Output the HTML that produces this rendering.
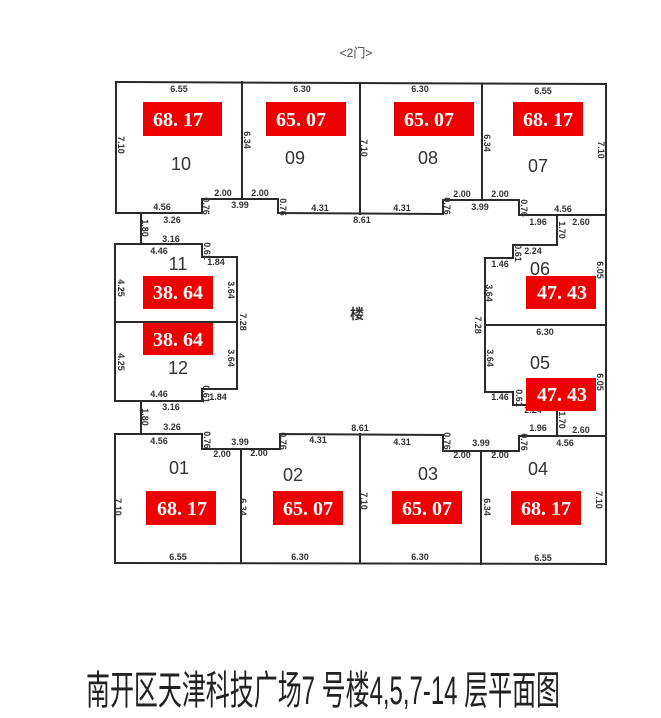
<!DOCTYPE html>
<html><head><meta charset="utf-8"><style>
html,body{margin:0;padding:0;background:#fff;}
svg{display:block;}
.w{fill:none;stroke:#2a2a2a;stroke-width:2;stroke-linecap:square;}
.d{font-family:"Liberation Sans",sans-serif;font-size:9px;font-weight:bold;fill:#333;text-anchor:middle;}
.n{font-family:"Liberation Sans",sans-serif;font-size:18px;fill:#333;text-anchor:middle;}
.r{fill:#ee0000;}
.a{font-family:"Liberation Serif",serif;font-size:20px;font-weight:bold;fill:#fff;}
</style></head><body>
<svg width="661" height="718" viewBox="0 0 661 718" xmlns="http://www.w3.org/2000/svg">
<rect width="661" height="718" fill="#fff"/>
<text x="356" y="57" style="font-family:'Liberation Sans','Noto Sans CJK SC',sans-serif;font-size:12px;fill:#444;text-anchor:middle">&lt;2门&gt;</text>

<!-- walls -->
<polyline class="w" points="116,213 116,82 606,84 606,564 115,563 115,434"/>
<polyline class="w" points="116,213 202,213 202,199 278,199 278,213 443,214 443,200 519,200 519,215 606,215"/>
<line class="w" x1="242" y1="82" x2="242" y2="199"/>
<line class="w" x1="360" y1="83" x2="360" y2="214"/>
<line class="w" x1="482" y1="84" x2="482" y2="200"/>
<!-- left rooms -->
<line class="w" x1="141" y1="213" x2="141" y2="244"/>
<polyline class="w" points="115,244 202,244 202,257 237,257 237,389 202,389 202,401 115,401 115,244"/>
<line class="w" x1="115" y1="322" x2="237" y2="322"/>
<line class="w" x1="141" y1="401" x2="141" y2="434"/>
<!-- right rooms -->
<polyline class="w" points="557,215 557,245 513,245 513,258 485,258 485,392 513,392 513,405 557,405 557,436"/>
<line class="w" x1="485" y1="325" x2="606" y2="325"/>
<!-- bottom -->
<polyline class="w" points="115,434 202,434 202,449 280,449 280,434 443,435 443,451 519,451 519,436 606,436"/>
<line class="w" x1="241" y1="449" x2="241" y2="563"/>
<line class="w" x1="360" y1="434" x2="360" y2="563"/>
<line class="w" x1="481" y1="451" x2="481" y2="564"/>

<!-- horizontal dims -->
<g class="d">
<text x="179" y="92">6.55</text><text x="302" y="92">6.30</text><text x="420" y="92">6.30</text><text x="543" y="94">6.55</text>
<text x="223" y="196">2.00</text><text x="260" y="196">2.00</text><text x="462" y="197">2.00</text><text x="500" y="197">2.00</text>
<text x="240" y="208">3.99</text><text x="480" y="210">3.99</text>
<text x="162" y="210">4.56</text><text x="320" y="211">4.31</text><text x="402" y="211">4.31</text><text x="563" y="212">4.56</text>
<text x="172" y="223">3.26</text><text x="362" y="223">8.61</text><text x="538" y="225">1.96</text><text x="581" y="225">2.60</text>
<text x="171" y="242">3.16</text><text x="159" y="254">4.46</text><text x="216" y="265">1.84</text>
<text x="533" y="254">2.24</text><text x="500" y="267">1.46</text><text x="545" y="335">6.30</text>
<text x="159" y="397">4.46</text><text x="218" y="400">1.84</text><text x="171" y="410">3.16</text>
<text x="500" y="400">1.46</text><text x="533" y="413">2.24</text>
<text x="172" y="430">3.26</text><text x="360" y="431">8.61</text><text x="538" y="431">1.96</text><text x="581" y="433">2.60</text>
<text x="159" y="444">4.56</text><text x="240" y="445">3.99</text><text x="318" y="443">4.31</text><text x="402" y="445">4.31</text><text x="481" y="446">3.99</text><text x="565" y="446">4.56</text>
<text x="222" y="457">2.00</text><text x="259" y="456">2.00</text><text x="462" y="458">2.00</text><text x="500" y="458">2.00</text>
<text x="178" y="560">6.55</text><text x="300" y="560">6.30</text><text x="420" y="560">6.30</text><text x="543" y="561">6.55</text>
</g>
<!-- vertical dims -->
<g class="d">
<text transform="translate(121,145) rotate(90)" y="3">7.10</text>
<text transform="translate(247,140) rotate(90)" y="3">6.34</text>
<text transform="translate(364,148) rotate(90)" y="3">7.10</text>
<text transform="translate(487,143) rotate(90)" y="3">6.34</text>
<text transform="translate(601,150) rotate(90)" y="3">7.10</text>
<text transform="translate(206,206) rotate(90)" y="3">0.76</text>
<text transform="translate(283,207) rotate(90)" y="3">0.76</text>
<text transform="translate(447,206) rotate(90)" y="3">0.76</text>
<text transform="translate(524,208) rotate(90)" y="3">0.76</text>
<text transform="translate(145,228) rotate(90)" y="3">1.80</text>
<text transform="translate(207,251) rotate(90)" y="3">0.61</text>
<text transform="translate(121,288) rotate(90)" y="3">4.25</text>
<text transform="translate(231,290) rotate(90)" y="3">3.64</text>
<text transform="translate(243,322) rotate(90)" y="3">7.28</text>
<text transform="translate(121,362) rotate(90)" y="3">4.25</text>
<text transform="translate(231,358) rotate(90)" y="3">3.64</text>
<text transform="translate(206,394) rotate(90)" y="3">0.61</text>
<text transform="translate(145,417) rotate(90)" y="3">1.80</text>
<text transform="translate(207,440) rotate(90)" y="3">0.76</text>
<text transform="translate(283,441) rotate(90)" y="3">0.76</text>
<text transform="translate(447,441) rotate(90)" y="3">0.76</text>
<text transform="translate(524,442) rotate(90)" y="3">0.76</text>
<text transform="translate(562,230) rotate(90)" y="3">1.70</text>
<text transform="translate(518,253) rotate(90)" y="3">0.61</text>
<text transform="translate(600,270) rotate(90)" y="3">6.05</text>
<text transform="translate(489,293) rotate(90)" y="3">3.64</text>
<text transform="translate(478,325) rotate(90)" y="3">7.28</text>
<text transform="translate(490,358) rotate(90)" y="3">3.64</text>
<text transform="translate(600,382) rotate(90)" y="3">6.05</text>
<text transform="translate(519,398) rotate(90)" y="3">0.61</text>
<text transform="translate(562,420) rotate(90)" y="3">1.70</text>
<text transform="translate(118,507) rotate(90)" y="3">7.10</text>
<text transform="translate(243,507) rotate(90)" y="3">6.34</text>
<text transform="translate(364,501) rotate(90)" y="3">7.10</text>
<text transform="translate(487,507) rotate(90)" y="3">6.34</text>
<text transform="translate(599,500) rotate(90)" y="3">7.10</text>
</g>

<!-- center mark -->
<text x="357" y="319" style="font-family:'Noto Sans CJK SC',sans-serif;font-size:14px;font-weight:bold;fill:#333;text-anchor:middle">楼</text>

<!-- room numbers -->
<g class="n">
<text x="181" y="170">10</text><text x="295" y="164">09</text><text x="428" y="164">08</text><text x="538" y="172">07</text>
<text x="178" y="270">11</text><text x="178" y="374">12</text><text x="540" y="275">06</text><text x="540" y="369">05</text>
<text x="179" y="474">01</text><text x="293" y="481">02</text><text x="428" y="480">03</text><text x="538" y="475">04</text>
</g>

<!-- red area labels -->
<rect class="r" x="143" y="102" width="79" height="34"/><text class="a" x="153" y="126">68. 17</text>
<rect class="r" x="266" y="102" width="80" height="34"/><text class="a" x="276" y="126">65. 07</text>
<rect class="r" x="394" y="102" width="80" height="34"/><text class="a" x="404" y="126">65. 07</text>
<rect class="r" x="513" y="102" width="70" height="34"/><text class="a" x="523" y="126">68. 17</text>
<rect class="r" x="143" y="276" width="70" height="33"/><text class="a" x="153" y="299">38. 64</text>
<rect class="r" x="143" y="323" width="70" height="32"/><text class="a" x="153" y="346">38. 64</text>
<rect class="r" x="526" y="276" width="70" height="33"/><text class="a" x="537" y="299">47. 43</text>
<rect class="r" x="526" y="378" width="70" height="33"/><text class="a" x="537" y="401">47. 43</text>
<rect class="r" x="146" y="491" width="70" height="34"/><text class="a" x="157" y="515">68. 17</text>
<rect class="r" x="273" y="491" width="70" height="34"/><text class="a" x="283" y="515">65. 07</text>
<rect class="r" x="392" y="491" width="70" height="33"/><text class="a" x="402" y="515">65. 07</text>
<rect class="r" x="511" y="491" width="70" height="34"/><text class="a" x="521" y="515">68. 17</text>

<!-- title -->
<text x="86" y="704" textLength="474" lengthAdjust="spacingAndGlyphs" style="font-family:'Liberation Sans','Noto Sans CJK SC',sans-serif;font-size:40px;fill:#222">南开区天津科技广场7 号楼4,5,7-14 层平面图</text>
</svg>
</body></html>
